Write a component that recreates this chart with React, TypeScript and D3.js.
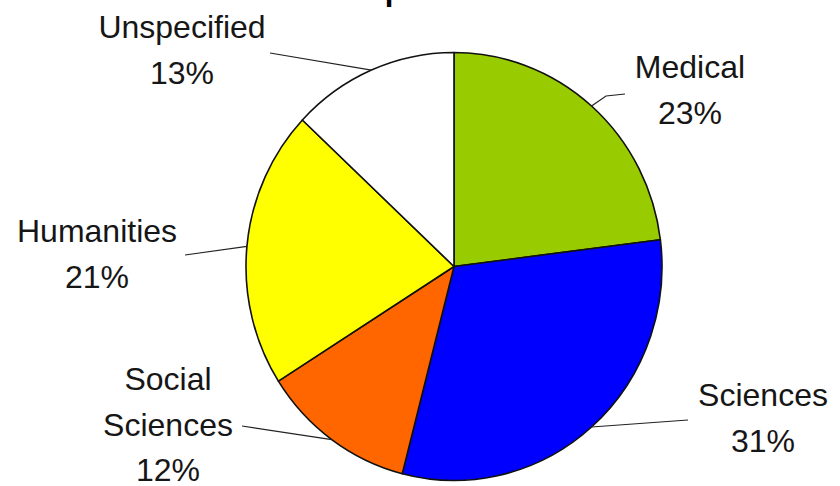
import * as d3 from "d3";
import { useEffect, useRef } from "react";

// data
const categories = ["Medical", "Sciences", "Social Sciences", "Humanities", "Unspecified"];
const shares = [23, 31, 12, 21, 13];
const colors = ["#99CC00", "#0000FF", "#FF6600", "#FFFF00", "#FFFFFF"];
const labelLines = [["Medical"], ["Sciences"], ["Social", "Sciences"], ["Humanities"], ["Unspecified"]];
const title = "Respondent Profile";

// label layout: text centre x, first baseline y, leader points from the label side
const labelPos: { x: number; y: number; lead: [number, number][] }[] = [
  { x: 690, y: 78, lead: [[625, 94], [606, 96]] },
  { x: 763, y: 406, lead: [[688, 420]] },
  { x: 168, y: 390, lead: [[242, 426]] },
  { x: 97, y: 242, lead: [[185, 255]] },
  { x: 182, y: 38, lead: [[270, 53]] },
];

export default function App() {
  const svgRef = useRef<SVGSVGElement | null>(null);

  useEffect(() => {
    const width = 840;
    const height = 486;
    const cx = 454;
    const cy = 266.5;
    const rx = 208;
    const ry = 214;

    const svg = d3.select(svgRef.current);
    svg.selectAll("*").remove();
    svg.attr("width", width).attr("height", height);

    svg.append("rect").attr("width", width).attr("height", height).attr("fill", "#fff");

    type D = { name: string; value: number; color: string };
    const data: D[] = categories.map((c, i) => ({ name: c, value: shares[i], color: colors[i] }));

    const pie = d3.pie<D>().value(d => d.value).sort(null).startAngle(0).endAngle(2 * Math.PI);
    const arcs = pie(data);
    const arc = d3.arc<d3.PieArcDatum<D>>().innerRadius(0).outerRadius(rx);

    // pie is slightly taller than wide in the picture
    const g = svg.append("g")
      .attr("transform", `translate(${cx},${cy}) scale(1,${ry / rx})`);

    g.selectAll("path")
      .data(arcs)
      .enter()
      .append("path")
      .attr("d", arc)
      .attr("fill", d => d.data.color)
      .attr("stroke", "#111")
      .attr("stroke-width", 1.6)
      .attr("vector-effect", "non-scaling-stroke")
      .attr("stroke-linejoin", "round");

    // leader lines end on the rim at each slice's mid angle
    const line = d3.line();
    arcs.forEach((a, i) => {
      const mid = (a.startAngle + a.endAngle) / 2;
      const rim: [number, number] = [cx + rx * Math.sin(mid), cy - ry * Math.cos(mid)];
      svg.append("path")
        .attr("d", line([...labelPos[i].lead, rim]))
        .attr("fill", "none")
        .attr("stroke", "#222")
        .attr("stroke-width", 1.2);
    });

    // labels
    arcs.forEach((a, i) => {
      const p = labelPos[i];
      const t = svg.append("text")
        .attr("text-anchor", "middle")
        .attr("font-family", "'Liberation Sans', Arial, sans-serif")
        .attr("font-size", 32)
        .attr("fill", "#161616");
      const lines = [...labelLines[i], `${a.data.value}%`];
      lines.forEach((l, j) => {
        t.append("tspan").attr("x", p.x).attr("y", p.y + j * 45.5).text(l);
      });
    });

    // title, mostly cut off at the top edge as in the picture
    svg.append("text")
      .attr("x", 328)
      .attr("y", 0)
      .attr("font-family", "'Liberation Sans', Arial, sans-serif")
      .attr("font-weight", "bold")
      .attr("font-size", 31)
      .attr("fill", "#000")
      .text(title);
  }, []);

  return (
    <svg ref={svgRef} style={{ position: "absolute", top: 0, left: 0, display: "block" }}></svg>
  );
}
